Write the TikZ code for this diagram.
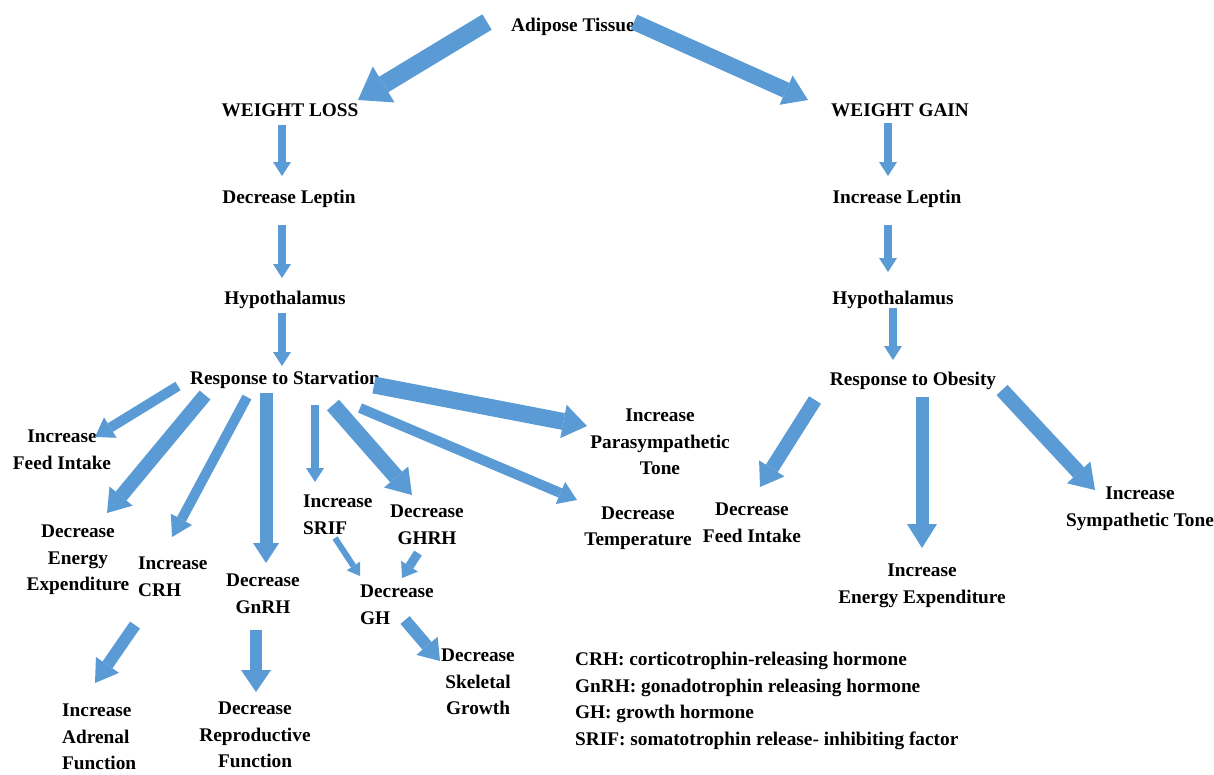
\documentclass[tikz,border=0pt]{standalone}
\usepackage{fontspec}
\setmainfont{Liberation Serif}
\usetikzlibrary{arrows.meta}
\definecolor{cArrow}{HTML}{5B9BD5}

\tikzset{
  lbl/.style={font=\bfseries\fontsize{19.3}{26.5}\selectfont,inner sep=0pt,align=center},
  lbll/.style={lbl,align=left,anchor=west},
  fat/.style n args={3}{draw=cArrow,line width=#1pt,
    -{Triangle[width=#2pt,length=#3pt,line width=0pt]}},
}

\begin{document}
\begin{tikzpicture}[x=1pt,y=-1pt]
  \useasboundingbox (0,0) rectangle (1214,774);

  \node[lbl] (adipose) at (573,27) {Adipose Tissue};
  \node[lbl] (wloss) at (290,110) {WEIGHT LOSS};
  \node[lbl] (wgain) at (900,110) {WEIGHT GAIN};
  \node[lbl] (decLep) at (289,199) {Decrease Leptin};
  \node[lbl] (incLep) at (897,199) {Increase Leptin};
  \node[lbl] (hypoL) at (285,300) {Hypothalamus};
  \node[lbl] (hypoR) at (893,300) {Hypothalamus};
  \node[lbl] (starv) at (285,380) {Response to Starvation};
  \node[lbl] (obese) at (913,381) {Response to Obesity};

  \node[lbl] (incFeed) at (62,450) {Increase\\Feed Intake};
  \node[lbl] (decEnergy) at (78,560) {Decrease\\Energy\\Expenditure};
  \node[lbll] (incCRH) at (138,577) {Increase\\CRH};
  \node[lbl] (decGnRH) at (263,594) {Decrease\\GnRH};
  \node[lbll] (incSRIF) at (303,515) {Increase\\SRIF};
  \node[lbl] (decGHRH) at (427,525) {Decrease\\GHRH};
  \node[lbll] (decGH) at (360,605) {Decrease\\GH};
  \node[lbl] (decSkel) at (478,682) {Decrease\\Skeletal\\Growth};
  \node[lbl] (decTemp) at (638,528) {Decrease\\Temperature};
  \node[lbl] (incPara) at (660,442) {Increase\\Parasympathetic\\Tone};
  \node[lbll] (incAdr) at (62,737) {Increase\\Adrenal\\Function};
  \node[lbl] (decRepro) at (255,735) {Decrease\\Reproductive\\Function};

  \node[lbl] (decFeed) at (752,523) {Decrease\\Feed Intake};
  \node[lbl] (incEnergy) at (922,586) {Increase\\Energy Expenditure};
  \node[lbl] (incSymp) at (1140,509) {Increase\\Sympathetic Tone};

  \node[lbll] (legend) at (575,701) {CRH: corticotrophin-releasing hormone\\
    GnRH: gonadotrophin releasing hormone\\
    GH: growth hormone\\
    SRIF: somatotrophin release- inhibiting factor};

  \draw[fat={18}{42}{30}] ([shift={(-86,-5)}]adipose.center) -- ([shift={(68,-10)}]wloss.center);
  \draw[fat={16}{32}{24}] ([shift={(61,-5)}]adipose.center) -- ([shift={(-92,-10)}]wgain.center);
  \draw[fat={8}{18}{14}] ([shift={(-8,15)}]wloss.center) -- ([shift={(-7,-23)}]decLep.center);
  \draw[fat={8}{18}{14}] ([shift={(-7,26)}]decLep.center) -- ([shift={(-3,-22)}]hypoL.center);
  \draw[fat={8}{18}{14}] ([shift={(-3,13)}]hypoL.center) -- ([shift={(-3,-14)}]starv.center);
  \draw[fat={8}{18}{14}] ([shift={(-12,13)}]wgain.center) -- ([shift={(-9,-23)}]incLep.center);
  \draw[fat={8}{18}{14}] ([shift={(-9,26)}]incLep.center) -- ([shift={(-5,-28)}]hypoR.center);
  \draw[fat={8}{18}{14}] ([shift={(0,8)}]hypoR.center) -- ([shift={(-20,-21)}]obese.center);

  \draw[fat={10}{24}{18}] ([shift={(-107,6)}]starv.center) -- ([shift={(33,-13)}]incFeed.center);
  \draw[fat={14}{30}{22}] ([shift={(-80,15)}]starv.center) -- ([shift={(29,-47)}]decEnergy.center);
  \draw[fat={10}{24}{20}] ([shift={(-38,17)}]starv.center) -- ([shift={(34,-40)}]incCRH.west);
  \draw[fat={13}{26}{20}] ([shift={(-19,13)}]starv.center) -- ([shift={(3,-31)}]decGnRH.center);
  \draw[fat={8}{18}{14}] ([shift={(30,25)}]starv.center) -- ([shift={(12,-33)}]incSRIF.west);
  \draw[fat={16}{32}{24}] ([shift={(48,25)}]starv.center) -- ([shift={(-15,-30)}]decGHRH.center);
  \draw[fat={10}{24}{18}] ([shift={(75,28)}]starv.center) -- ([shift={(-61,-28)}]decTemp.center);
  \draw[fat={17}{34}{24}] ([shift={(89,5)}]starv.center) -- ([shift={(-73,-16)}]incPara.center);

  \draw[fat={6}{16}{12}] ([shift={(32,23)}]incSRIF.west) -- ([shift={(0,-29)}]decGH.west);
  \draw[fat={9}{20}{14}] ([shift={(-9,28)}]decGHRH.center) -- ([shift={(42,-27)}]decGH.west);
  \draw[fat={12}{28}{20}] ([shift={(45,15)}]decGH.west) -- ([shift={(-38,-21)}]decSkel.center);
  \draw[fat={12}{28}{22}] ([shift={(-3,48)}]incCRH.west) -- ([shift={(33,-54)}]incAdr.west);
  \draw[fat={12}{30}{22}] ([shift={(-7,36)}]decGnRH.center) -- ([shift={(1,-43)}]decRepro.center);

  \draw[fat={14}{30}{22}] ([shift={(-98,19)}]obese.center) -- ([shift={(8,-36)}]decFeed.center);
  \draw[fat={13}{30}{24}] ([shift={(9,16)}]obese.center) -- ([shift={(0,-38)}]incEnergy.center);
  \draw[fat={15}{32}{24}] ([shift={(89,9)}]obese.center) -- ([shift={(-45,-19)}]incSymp.center);
\end{tikzpicture}
\end{document}
